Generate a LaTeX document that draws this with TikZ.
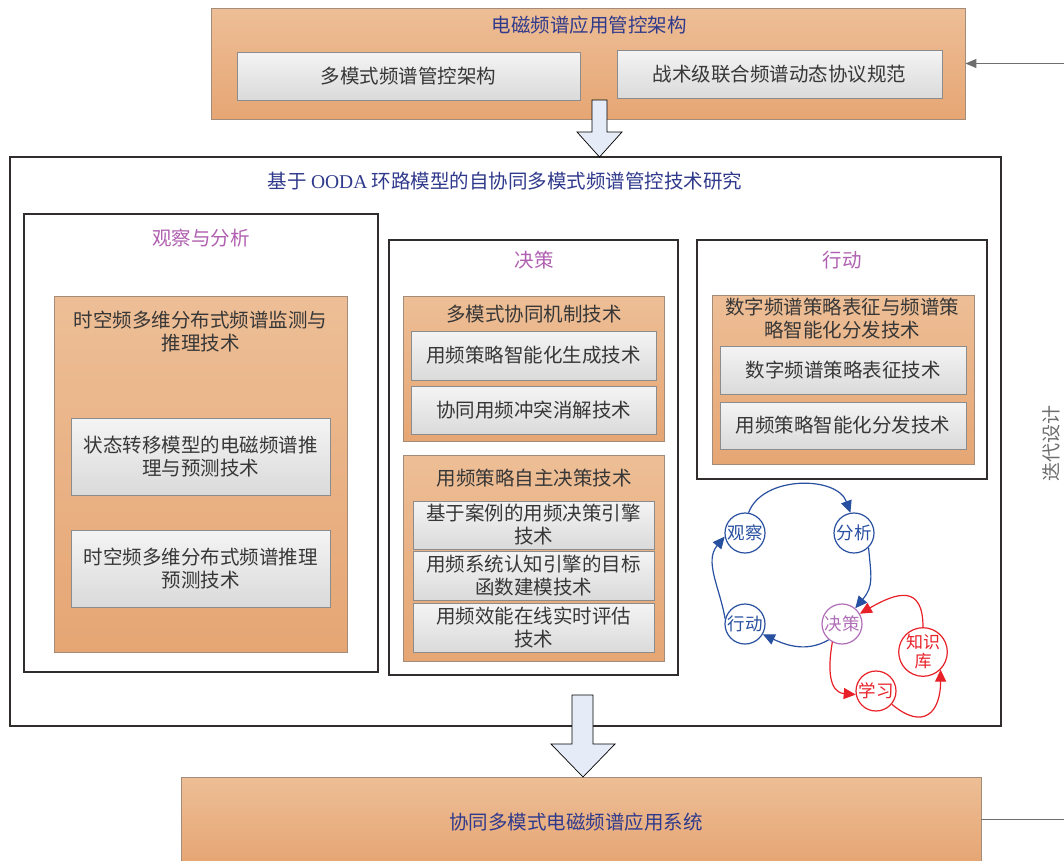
\documentclass[tikz,border=0pt]{standalone}
\usepackage{fontspec}
\setmainfont{Noto Sans CJK SC}
\newfontfamily\lat{Liberation Serif}
\usetikzlibrary{arrows.meta,shapes.geometric}
\definecolor{ttl}{RGB}{48,58,140}
\definecolor{pur}{RGB}{176,96,176}
\definecolor{txt}{RGB}{55,55,55}
\definecolor{orT}{RGB}{237,190,150}
\definecolor{orB}{RGB}{230,166,116}
\definecolor{orL}{RGB}{165,140,120}
\definecolor{gyT}{RGB}{244,244,244}
\definecolor{gyB}{RGB}{218,218,218}
\definecolor{gyL}{RGB}{140,140,140}
\definecolor{frm}{RGB}{50,45,45}
\definecolor{cb}{RGB}{40,80,160}
\definecolor{cr}{RGB}{232,32,40}
\definecolor{cp}{RGB}{176,110,184}
\definecolor{arf}{RGB}{230,235,248}
\definecolor{fb}{RGB}{110,110,110}
\begin{document}
\begin{tikzpicture}[x=1pt,y=1pt,
 obox/.style={draw=orL, line width=0.8pt, top color=orT, bottom color=orB, inner sep=0pt},
 gbox/.style={draw=gyL, line width=0.8pt, top color=gyT, bottom color=gyB, inner sep=0pt,
   font=\fontsize{19.5}{23}\selectfont, text=txt, align=center},
 wbox/.style={draw=frm, line width=1.3pt, fill=white, inner sep=0pt},
 ttlt/.style={font=\fontsize{19.5}{23}\selectfont, text=ttl, inner sep=0pt},
 ptl/.style={font=\fontsize{19.5}{23}\selectfont, text=pur, inner sep=0pt},
 otl/.style={font=\fontsize{19.5}{23}\selectfont, text=txt, align=center, inner sep=0pt},
 cyc/.style={circle, line width=1.2pt, minimum size=40pt, inner sep=0pt,
   font=\fontsize{17.5}{19}\selectfont, fill=white, align=center},
 cycb/.style={cyc, draw=cb, text=cb},
 cycr/.style={cyc, draw=cr, text=cr},
 cycp/.style={cyc, draw=cp, text=cp},
 barr/.style={draw=cb, line width=1.2pt, -{Triangle[length=12pt,width=11pt]}},
 rarr/.style={draw=cr, line width=1.2pt, -{Triangle[length=12pt,width=11pt]}},
 blockarr/.style={draw=black, line width=0.7pt, fill=arf},
 fbline/.style={draw=fb, line width=1pt}
]
\useasboundingbox (0,0) rectangle (1064,-860);
\fill[white] (0,0) rectangle (1064,-860);

% top box
\node[obox, minimum width=754pt, minimum height=111pt] (top) at (588,-63.5) {};
\node[ttlt] (toptitle) at (589,-25) {电磁频谱应用管控架构};
\node[gbox, minimum width=343pt, minimum height=48pt] (t1) at (408.5,-76) {多模式频谱管控架构};
\node[gbox, minimum width=325pt, minimum height=48pt] (t2) at (779.5,-74) {战术级联合频谱动态协议规范};

% big frame
\node[wbox, minimum width=991pt, minimum height=569pt] (big) at (505.5,-441.5) {};
\node[ttlt] (bigtitle) at (505,-181) {基于 {\lat OODA} 环路模型的自协同多模式频谱管控技术研究};

% observe & analyse
\node[wbox, minimum width=354pt, minimum height=458pt] (gf) at (201,-443) {};
\node[ptl] (gftitle) at (201,-238) {观察与分析};
\node[obox, minimum width=293pt, minimum height=356pt] (gfo) at (200.5,-474) {};
\node[otl] (gfotitle) at (200.5,-331.5) {时空频多维分布式频谱监测与\\推理技术};
\node[gbox, minimum width=259pt, minimum height=77pt] (gfa) at (200.5,-456.5) {状态转移模型的电磁频谱推\\理与预测技术};
\node[gbox, minimum width=259pt, minimum height=77pt] (gfb) at (200.5,-568.5) {时空频多维分布式频谱推理\\预测技术};

% decide
\node[wbox, minimum width=289pt, minimum height=435pt] (jcb) at (533.5,-457.5) {};
\node[ptl] (jctitle) at (534,-260) {决策};
\node[obox, minimum width=261pt, minimum height=145pt] (jo1) at (533.5,-368.5) {};
\node[otl] (jo1title) at (534,-314) {多模式协同机制技术};
\node[gbox, minimum width=245pt, minimum height=49pt] (ja) at (533.5,-355.5) {用频策略智能化生成技术};
\node[gbox, minimum width=245pt, minimum height=48pt] (jb) at (533.5,-410) {协同用频冲突消解技术};
\node[obox, minimum width=261pt, minimum height=206pt] (jo2) at (533.5,-558) {};
\node[otl] (jo2title) at (534,-478) {用频策略自主决策技术};
\node[gbox, minimum width=241pt, minimum height=48pt] (jc1) at (533.5,-525) {基于案例的用频决策引擎\\技术};
\node[gbox, minimum width=241pt, minimum height=49pt] (jc2) at (533.5,-575.5) {用频系统认知引擎的目标\\函数建模技术};
\node[gbox, minimum width=241pt, minimum height=49pt] (jc3) at (533.5,-627.5) {用频效能在线实时评估\\技术};

% act
\node[wbox, minimum width=290pt, minimum height=239pt] (xdb) at (842,-359.5) {};
\node[ptl] (xdtitle) at (842,-260) {行动};
\node[obox, minimum width=262pt, minimum height=169pt] (xo) at (843,-379.5) {};
\node[otl] (xotitle) at (842,-319) {数字频谱策略表征与频谱策\\略智能化分发技术};
\node[gbox, minimum width=246pt, minimum height=48pt] (xa) at (843,-370) {数字频谱策略表征技术};
\node[gbox, minimum width=246pt, minimum height=47pt] (xb) at (843,-425.5) {用频策略智能化分发技术};

% cycle
\node[cycb] (gc) at (745,-533) {观察};
\node[cycb] (fx) at (854,-533) {分析};
\node[cycb] (xd) at (745,-624) {行动};
\node[cycp] (jc) at (842,-624) {决策};
\node[cycr, minimum size=42pt, font=\fontsize{17}{19}\selectfont] (zsk) at (923,-652) {知识\\库};
\node[cycr] (xx) at (876,-691) {学习};

\draw[barr] (gc.80) to[out=70,in=110] (fx.100);
\draw[barr] (fx.-45) to[out=-85,in=50,looseness=1.2] (jc.50);
\draw[barr] (jc.-130) to[out=-150,in=-25] (xd.-30);
\draw[barr] (xd.165) to[out=100,in=-130] (gc.190);
\draw[rarr] (zsk.90) to[out=90,in=30,looseness=1.7] (jc.30);
\draw[rarr] (jc.-118) to[out=-100,in=175,looseness=1.2] (xx.190);
\draw[rarr] (xx.-40) to[out=-40,in=-90,looseness=1.8] (zsk.-45);

% bottom box
\node[obox, minimum width=800pt, minimum height=85pt] (bot) at (581,-819.5) {};
\node[ttlt] (bottitle) at (576,-822) {协同多模式电磁频谱应用系统};

% block arrows
\path[blockarr] (592,-100) -- (607,-100) -- (607,-132) -- (622,-132) -- (599.5,-157)
  -- (577,-132) -- (592,-132) -- cycle;
\path[blockarr] (572,-695) -- (593,-695) -- (593,-744) -- (615,-744) -- (583,-777)
  -- (551,-744) -- (572,-744) -- cycle;

% feedback lines
\coordinate (fbin) at (1064,-63.5);
\coordinate (fbout) at (1064,-819.5);
\draw[fbline, -{Triangle[length=11pt,width=9pt]}] (fbin) -- (top.east);
\draw[fbline] (bot.east) -- (fbout);
\node[rotate=90, font=\fontsize{19}{23}\selectfont, text=fb, inner sep=0pt] (iter) at (1051,-443) {迭代设计};
\end{tikzpicture}
\end{document}
